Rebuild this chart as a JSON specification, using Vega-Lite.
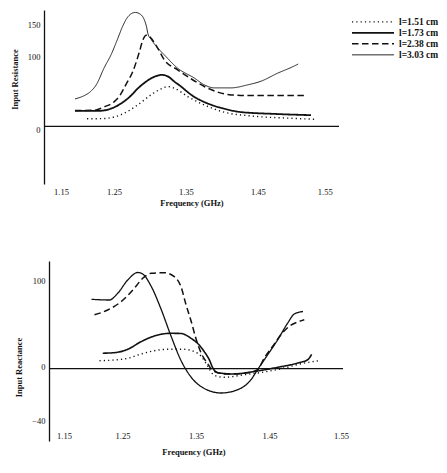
{
  "$schema": "https://vega.github.io/schema/vega-lite/v6.json",
  "padding": {"left": 10, "top": 10, "right": 5, "bottom": 5},
  "background": "white",
  "spacing": 54,
  "config": {
    "font": "Liberation Serif",
    "view": {"stroke": null},
    "axis": {
      "labelFont": "Liberation Serif", "labelFontSize": 8.5, "labelColor": "#111",
      "titleFont": "Liberation Serif", "titleFontSize": 8.5, "titleFontWeight": "bold", "titleColor": "#111",
      "grid": false, "ticks": false, "domainColor": "#111", "domainWidth": 1.3, "labelFlush": false
    }
  },
  "resolve": {"scale": {"strokeDash": "independent", "strokeWidth": "independent"}},
  "datasets": {
    "res": [
      {"s": "l=1.51 cm", "f": 1.2098, "v": 11},
      {"s": "l=1.51 cm", "f": 1.2300, "v": 11.2},
      {"s": "l=1.51 cm", "f": 1.2431, "v": 12.5},
      {"s": "l=1.51 cm", "f": 1.2616, "v": 18.9},
      {"s": "l=1.51 cm", "f": 1.2802, "v": 30.7},
      {"s": "l=1.51 cm", "f": 1.2987, "v": 45},
      {"s": "l=1.51 cm", "f": 1.3126, "v": 53.6},
      {"s": "l=1.51 cm", "f": 1.3219, "v": 56.9},
      {"s": "l=1.51 cm", "f": 1.3311, "v": 54.6},
      {"s": "l=1.51 cm", "f": 1.3497, "v": 42.6},
      {"s": "l=1.51 cm", "f": 1.3728, "v": 30.7},
      {"s": "l=1.51 cm", "f": 1.4006, "v": 20.3},
      {"s": "l=1.51 cm", "f": 1.4377, "v": 15},
      {"s": "l=1.51 cm", "f": 1.4933, "v": 11.7},
      {"s": "l=1.51 cm", "f": 1.5257, "v": 10.3},
      {"s": "l=1.73 cm", "f": 1.1931, "v": 22.1},
      {"s": "l=1.73 cm", "f": 1.2246, "v": 22.1},
      {"s": "l=1.73 cm", "f": 1.2477, "v": 27.4},
      {"s": "l=1.73 cm", "f": 1.2616, "v": 36},
      {"s": "l=1.73 cm", "f": 1.2709, "v": 44},
      {"s": "l=1.73 cm", "f": 1.2802, "v": 54},
      {"s": "l=1.73 cm", "f": 1.2894, "v": 62},
      {"s": "l=1.73 cm", "f": 1.2987, "v": 68.5},
      {"s": "l=1.73 cm", "f": 1.3080, "v": 72.5},
      {"s": "l=1.73 cm", "f": 1.3126, "v": 73.6},
      {"s": "l=1.73 cm", "f": 1.3219, "v": 71.5},
      {"s": "l=1.73 cm", "f": 1.3311, "v": 64},
      {"s": "l=1.73 cm", "f": 1.3404, "v": 57},
      {"s": "l=1.73 cm", "f": 1.3497, "v": 49},
      {"s": "l=1.73 cm", "f": 1.3590, "v": 42},
      {"s": "l=1.73 cm", "f": 1.3682, "v": 37},
      {"s": "l=1.73 cm", "f": 1.3820, "v": 31},
      {"s": "l=1.73 cm", "f": 1.3960, "v": 26.5},
      {"s": "l=1.73 cm", "f": 1.4238, "v": 20.5},
      {"s": "l=1.73 cm", "f": 1.4701, "v": 17.9},
      {"s": "l=1.73 cm", "f": 1.5211, "v": 16.1},
      {"s": "l=2.38 cm", "f": 1.1931, "v": 22.6},
      {"s": "l=2.38 cm", "f": 1.2199, "v": 23.2},
      {"s": "l=2.38 cm", "f": 1.2338, "v": 28},
      {"s": "l=2.38 cm", "f": 1.2477, "v": 35.4},
      {"s": "l=2.38 cm", "f": 1.2560, "v": 45},
      {"s": "l=2.38 cm", "f": 1.2640, "v": 60},
      {"s": "l=2.38 cm", "f": 1.2733, "v": 78},
      {"s": "l=2.38 cm", "f": 1.2825, "v": 106},
      {"s": "l=2.38 cm", "f": 1.2870, "v": 122},
      {"s": "l=2.38 cm", "f": 1.2920, "v": 130},
      {"s": "l=2.38 cm", "f": 1.2960, "v": 129},
      {"s": "l=2.38 cm", "f": 1.2987, "v": 126},
      {"s": "l=2.38 cm", "f": 1.3080, "v": 111.7},
      {"s": "l=2.38 cm", "f": 1.3172, "v": 95},
      {"s": "l=2.38 cm", "f": 1.3358, "v": 80.7},
      {"s": "l=2.38 cm", "f": 1.3543, "v": 68},
      {"s": "l=2.38 cm", "f": 1.3728, "v": 57},
      {"s": "l=2.38 cm", "f": 1.3914, "v": 49},
      {"s": "l=2.38 cm", "f": 1.4099, "v": 45},
      {"s": "l=2.38 cm", "f": 1.4377, "v": 44},
      {"s": "l=2.38 cm", "f": 1.5118, "v": 44},
      {"s": "l=3.03 cm", "f": 1.1931, "v": 39.3},
      {"s": "l=3.03 cm", "f": 1.2060, "v": 44},
      {"s": "l=3.03 cm", "f": 1.2150, "v": 50},
      {"s": "l=3.03 cm", "f": 1.2230, "v": 60},
      {"s": "l=3.03 cm", "f": 1.2338, "v": 84},
      {"s": "l=3.03 cm", "f": 1.2431, "v": 102},
      {"s": "l=3.03 cm", "f": 1.2524, "v": 125},
      {"s": "l=3.03 cm", "f": 1.2594, "v": 143},
      {"s": "l=3.03 cm", "f": 1.2650, "v": 154},
      {"s": "l=3.03 cm", "f": 1.2709, "v": 160.5},
      {"s": "l=3.03 cm", "f": 1.2770, "v": 162.5},
      {"s": "l=3.03 cm", "f": 1.2830, "v": 160.5},
      {"s": "l=3.03 cm", "f": 1.2890, "v": 153},
      {"s": "l=3.03 cm", "f": 1.2925, "v": 142},
      {"s": "l=3.03 cm", "f": 1.2945, "v": 132},
      {"s": "l=3.03 cm", "f": 1.2990, "v": 124},
      {"s": "l=3.03 cm", "f": 1.3080, "v": 112},
      {"s": "l=3.03 cm", "f": 1.3172, "v": 102},
      {"s": "l=3.03 cm", "f": 1.3358, "v": 83},
      {"s": "l=3.03 cm", "f": 1.3589, "v": 69},
      {"s": "l=3.03 cm", "f": 1.3728, "v": 59.3},
      {"s": "l=3.03 cm", "f": 1.3867, "v": 55},
      {"s": "l=3.03 cm", "f": 1.4099, "v": 55},
      {"s": "l=3.03 cm", "f": 1.4331, "v": 59.3},
      {"s": "l=3.03 cm", "f": 1.4516, "v": 64.5},
      {"s": "l=3.03 cm", "f": 1.4748, "v": 76},
      {"s": "l=3.03 cm", "f": 1.4933, "v": 84},
      {"s": "l=3.03 cm", "f": 1.5034, "v": 89}
    ],
    "rea": [
      {"s": "l=1.51 cm", "f": 1.2187, "v": 8},
      {"s": "l=1.51 cm", "f": 1.2388, "v": 8.7},
      {"s": "l=1.51 cm", "f": 1.2571, "v": 10.4},
      {"s": "l=1.51 cm", "f": 1.2752, "v": 14.7},
      {"s": "l=1.51 cm", "f": 1.2933, "v": 18},
      {"s": "l=1.51 cm", "f": 1.3115, "v": 19.4},
      {"s": "l=1.51 cm", "f": 1.3341, "v": 19.4},
      {"s": "l=1.51 cm", "f": 1.3477, "v": 17},
      {"s": "l=1.51 cm", "f": 1.3568, "v": 12.7},
      {"s": "l=1.51 cm", "f": 1.3636, "v": 5.4},
      {"s": "l=1.51 cm", "f": 1.3749, "v": -6.6},
      {"s": "l=1.51 cm", "f": 1.3885, "v": -8.6},
      {"s": "l=1.51 cm", "f": 1.4157, "v": -6},
      {"s": "l=1.51 cm", "f": 1.4429, "v": -3.3},
      {"s": "l=1.51 cm", "f": 1.4701, "v": 0.7},
      {"s": "l=1.51 cm", "f": 1.4929, "v": 5},
      {"s": "l=1.51 cm", "f": 1.5178, "v": 8},
      {"s": "l=1.73 cm", "f": 1.2231, "v": 15.5},
      {"s": "l=1.73 cm", "f": 1.2388, "v": 16},
      {"s": "l=1.73 cm", "f": 1.2571, "v": 19.4},
      {"s": "l=1.73 cm", "f": 1.2752, "v": 27},
      {"s": "l=1.73 cm", "f": 1.2933, "v": 32.7},
      {"s": "l=1.73 cm", "f": 1.3160, "v": 35.4},
      {"s": "l=1.73 cm", "f": 1.3296, "v": 35.2},
      {"s": "l=1.73 cm", "f": 1.3432, "v": 30.4},
      {"s": "l=1.73 cm", "f": 1.3540, "v": 24},
      {"s": "l=1.73 cm", "f": 1.3613, "v": 17},
      {"s": "l=1.73 cm", "f": 1.3681, "v": 9},
      {"s": "l=1.73 cm", "f": 1.3727, "v": 1},
      {"s": "l=1.73 cm", "f": 1.3795, "v": -4},
      {"s": "l=1.73 cm", "f": 1.4021, "v": -5.3},
      {"s": "l=1.73 cm", "f": 1.4248, "v": -3.3},
      {"s": "l=1.73 cm", "f": 1.4612, "v": 1.4},
      {"s": "l=1.73 cm", "f": 1.4884, "v": 5.7},
      {"s": "l=1.73 cm", "f": 1.5020, "v": 9},
      {"s": "l=1.73 cm", "f": 1.5074, "v": 14.4},
      {"s": "l=2.38 cm", "f": 1.2119, "v": 53.9},
      {"s": "l=2.38 cm", "f": 1.2299, "v": 58.7},
      {"s": "l=2.38 cm", "f": 1.2480, "v": 67},
      {"s": "l=2.38 cm", "f": 1.2661, "v": 80.4},
      {"s": "l=2.38 cm", "f": 1.2775, "v": 90.4},
      {"s": "l=2.38 cm", "f": 1.2888, "v": 95.4},
      {"s": "l=2.38 cm", "f": 1.3069, "v": 96},
      {"s": "l=2.38 cm", "f": 1.3205, "v": 92},
      {"s": "l=2.38 cm", "f": 1.3296, "v": 82},
      {"s": "l=2.38 cm", "f": 1.3364, "v": 64},
      {"s": "l=2.38 cm", "f": 1.3432, "v": 48},
      {"s": "l=2.38 cm", "f": 1.3500, "v": 30},
      {"s": "l=2.38 cm", "f": 1.3568, "v": 16},
      {"s": "l=2.38 cm", "f": 1.3659, "v": 5},
      {"s": "l=2.38 cm", "f": 1.3731, "v": -2},
      {"s": "l=2.38 cm", "f": 1.3908, "v": -5.3},
      {"s": "l=2.38 cm", "f": 1.4180, "v": -4.3},
      {"s": "l=2.38 cm", "f": 1.4339, "v": -1},
      {"s": "l=2.38 cm", "f": 1.4429, "v": 10.7},
      {"s": "l=2.38 cm", "f": 1.4544, "v": 22.4},
      {"s": "l=2.38 cm", "f": 1.4656, "v": 34},
      {"s": "l=2.38 cm", "f": 1.4769, "v": 42.4},
      {"s": "l=2.38 cm", "f": 1.4884, "v": 46.7},
      {"s": "l=2.38 cm", "f": 1.4973, "v": 49},
      {"s": "l=3.03 cm", "f": 1.2078, "v": 69.4},
      {"s": "l=3.03 cm", "f": 1.2320, "v": 68.7},
      {"s": "l=3.03 cm", "f": 1.2435, "v": 75.4},
      {"s": "l=3.03 cm", "f": 1.2571, "v": 88.7},
      {"s": "l=3.03 cm", "f": 1.2707, "v": 96.2},
      {"s": "l=3.03 cm", "f": 1.2775, "v": 94.7},
      {"s": "l=3.03 cm", "f": 1.2888, "v": 82.7},
      {"s": "l=3.03 cm", "f": 1.3024, "v": 59.7},
      {"s": "l=3.03 cm", "f": 1.3160, "v": 32.7},
      {"s": "l=3.03 cm", "f": 1.3296, "v": 8.2},
      {"s": "l=3.03 cm", "f": 1.3432, "v": -8.3},
      {"s": "l=3.03 cm", "f": 1.3613, "v": -19.8},
      {"s": "l=3.03 cm", "f": 1.3840, "v": -24.3},
      {"s": "l=3.03 cm", "f": 1.4067, "v": -21},
      {"s": "l=3.03 cm", "f": 1.4248, "v": -11},
      {"s": "l=3.03 cm", "f": 1.4339, "v": -0.8},
      {"s": "l=3.03 cm", "f": 1.4476, "v": 14},
      {"s": "l=3.03 cm", "f": 1.4612, "v": 29},
      {"s": "l=3.03 cm", "f": 1.4748, "v": 45.7},
      {"s": "l=3.03 cm", "f": 1.4837, "v": 54.7},
      {"s": "l=3.03 cm", "f": 1.4956, "v": 57.2}
    ]
  },
  "vconcat": [
    {
      "width": 295,
      "height": 174,
      "layer": [
        {
          "data": {"values": [{}]},
          "mark": {"type": "rule", "color": "#111", "strokeWidth": 1.3},
          "encoding": {"y": {"datum": 0, "type": "quantitative"}}
        },
        {
          "data": {"name": "res"},
          "mark": {"type": "line", "interpolate": "monotone", "color": "#111"},
          "encoding": {
            "x": {
              "field": "f", "type": "quantitative",
              "scale": {"domain": [1.15, 1.56], "nice": false, "zero": false},
              "axis": {"values": [1.15, 1.25, 1.35, 1.45, 1.55], "format": ".2f", "domain": false,
                       "title": "Frequency (GHz)", "labelPadding": 3, "titlePadding": 3,
                       "labelOffset": {"condition": [{"test": "datum.value < 1.2", "value": 17}, {"test": "datum.value > 1.5", "value": -7}], "value": -2}}
            },
            "y": {
              "field": "v", "type": "quantitative",
              "scale": {"domain": [-82, 166], "nice": false, "zero": false},
              "axis": {"values": [0, 100, 150], "title": "Input Resistance", "labelPadding": 4, "titlePadding": 8, "titleY": 69,
                       "labelOffset": {"condition": {"test": "datum.value == 100", "value": 0}, "value": 3.5}}
            },
            "strokeDash": {
              "field": "s", "type": "nominal",
              "scale": {"domain": ["l=1.51 cm", "l=1.73 cm", "l=2.38 cm", "l=3.03 cm"],
                        "range": [[1.2, 3.1], [1, 0], [6.5, 3.5], [1, 0]]},
              "legend": {"orient": "none", "legendX": 307, "legendY": 7, "title": null,
                         "symbolType": "stroke", "symbolSize": 1764, "symbolStrokeColor": "#111",
                         "labelFont": "Liberation Serif", "labelFontSize": 9.5, "labelFontWeight": "bold", "labelColor": "#111",
                         "labelOffset": 4, "rowPadding": 0, "clipHeight": 9.7, "padding": 0}
            },
            "strokeWidth": {
              "field": "s", "type": "nominal",
              "scale": {"type": "ordinal", "domain": ["l=1.51 cm", "l=1.73 cm", "l=2.38 cm", "l=3.03 cm"],
                        "range": [1.4, 1.8, 1.5, 0.9]},
              "legend": {"orient": "none", "legendX": 307, "legendY": 7, "title": null,
                         "symbolType": "stroke", "symbolSize": 1764, "symbolStrokeColor": "#111",
                         "labelFont": "Liberation Serif", "labelFontSize": 9.5, "labelFontWeight": "bold", "labelColor": "#111",
                         "labelOffset": 4, "rowPadding": 0, "clipHeight": 9.7, "padding": 0}
            }
          }
        }
      ]
    },
    {
      "width": 299,
      "height": 180,
      "layer": [
        {
          "data": {"values": [{}]},
          "mark": {"type": "rule", "color": "#111", "strokeWidth": 1.3},
          "encoding": {
            "x": {"datum": 1.15, "type": "quantitative"},
            "x2": {"datum": 1.55},
            "y": {"datum": 0, "type": "quantitative"}
          }
        },
        {
          "data": {"name": "rea"},
          "mark": {"type": "line", "interpolate": "monotone", "color": "#111"},
          "encoding": {
            "x": {
              "field": "f", "type": "quantitative",
              "scale": {"domain": [1.1432, 1.55], "nice": false, "zero": false},
              "axis": {"values": [1.15, 1.25, 1.35, 1.45, 1.55], "format": ".2f", "domain": false,
                       "title": "Frequency (GHz)", "labelPadding": -10, "titlePadding": 6,
                       "labelOffset": {"condition": [{"test": "datum.value < 1.2", "value": 15}, {"test": "datum.value > 1.5", "value": -2}], "value": 0}}
            },
            "y": {
              "field": "v", "type": "quantitative",
              "scale": {"domain": [-72.3, 107.7], "nice": false, "zero": false},
              "axis": {"values": [-40, 0, 100], "title": "Input Reactance", "labelPadding": 4, "titlePadding": 8, "titleY": 106, "offset": -5,
                       "labelOffset": {"condition": {"test": "datum.value == 0", "value": -2}, "value": 12}}
            },
            "strokeDash": {
              "field": "s", "type": "nominal",
              "scale": {"domain": ["l=1.51 cm", "l=1.73 cm", "l=2.38 cm", "l=3.03 cm"],
                        "range": [[1.2, 3.1], [1, 0], [6.5, 3.5], [1, 0]]},
              "legend": null
            },
            "strokeWidth": {
              "field": "s", "type": "nominal",
              "scale": {"type": "ordinal", "domain": ["l=1.51 cm", "l=1.73 cm", "l=2.38 cm", "l=3.03 cm"],
                        "range": [1.4, 1.6, 1.5, 1.3]},
              "legend": null
            }
          }
        }
      ]
    }
  ]
}
